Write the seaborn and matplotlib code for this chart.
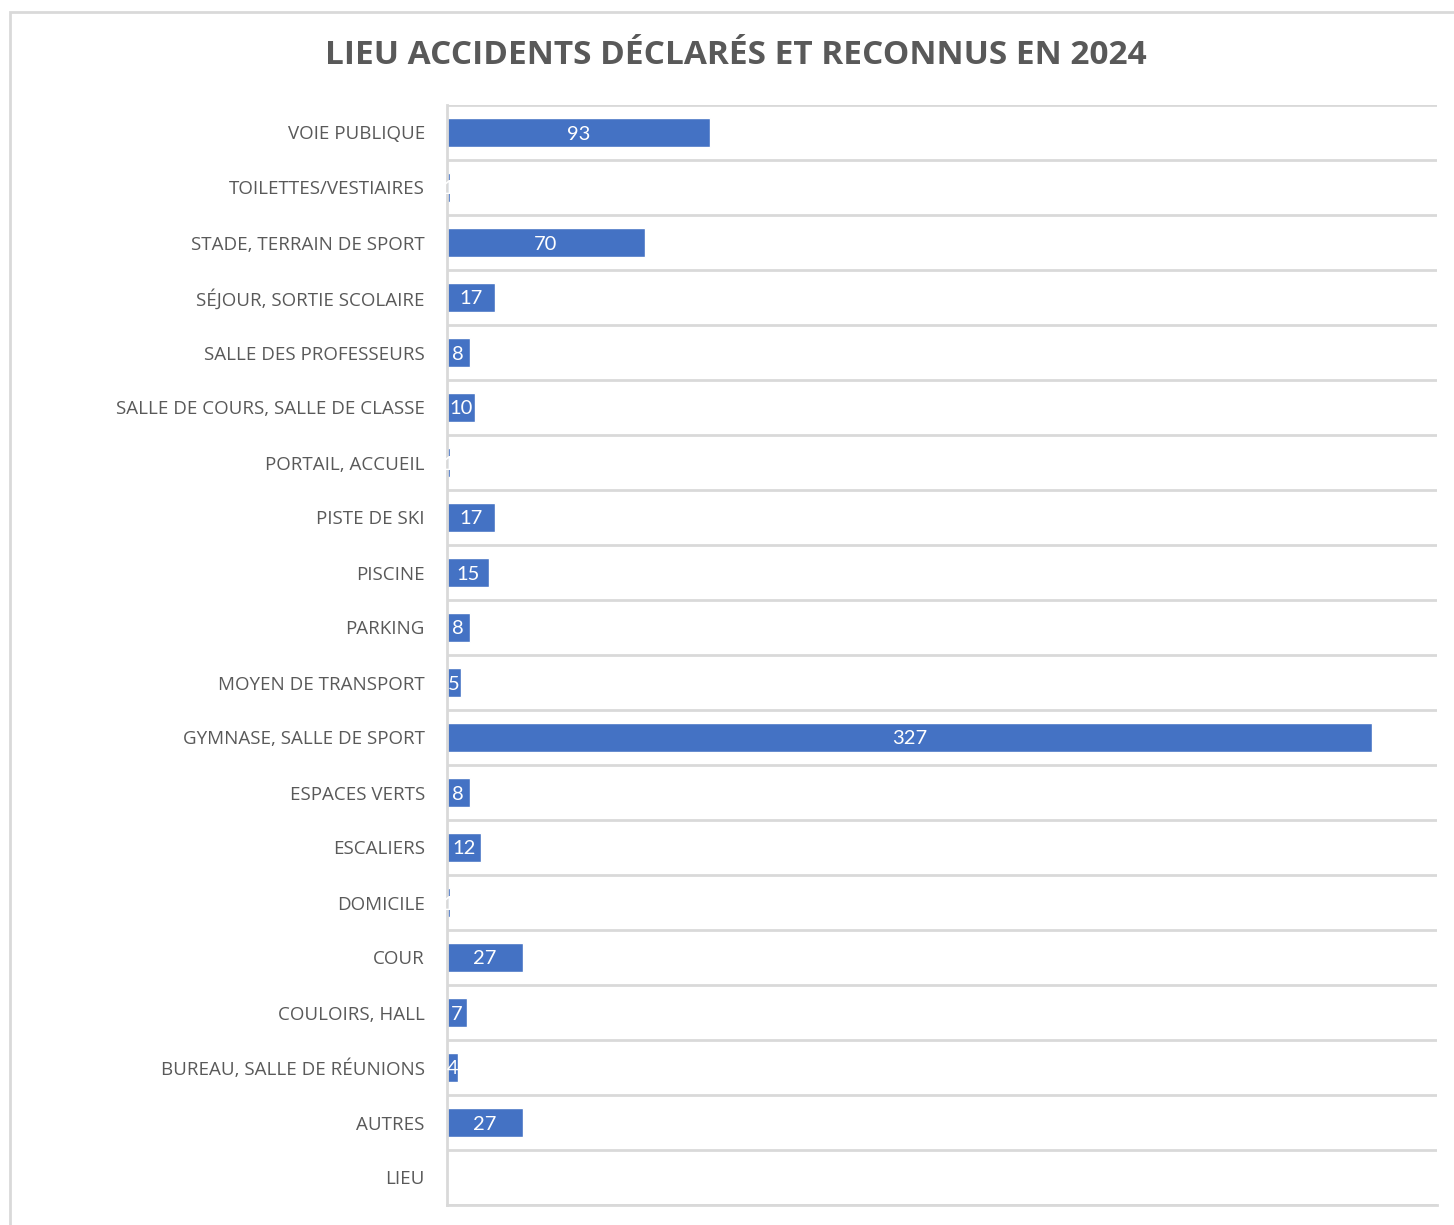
import numpy as np
import pandas as pd
import matplotlib
matplotlib.use("Agg")
import matplotlib.pyplot as plt
import seaborn as sns
from matplotlib.patches import Rectangle

# données du graphique (haut -> bas)
lieux = [
    "VOIE PUBLIQUE", "TOILETTES/VESTIAIRES", "STADE, TERRAIN DE SPORT",
    "SÉJOUR, SORTIE SCOLAIRE", "SALLE DES PROFESSEURS",
    "SALLE DE COURS, SALLE DE CLASSE", "PORTAIL, ACCUEIL", "PISTE DE SKI",
    "PISCINE", "PARKING", "MOYEN DE TRANSPORT", "GYMNASE, SALLE DE SPORT",
    "ESPACES VERTS", "ESCALIERS", "DOMICILE", "COUR", "COULOIRS, HALL",
    "BUREAU, SALLE DE RÉUNIONS", "AUTRES", "LIEU",
]
accidents = [93, 1, 70, 17, 8, 10, 1, 17, 15, 8, 5, 327, 8, 12, 1, 27, 7, 4, 27, np.nan]

df = pd.DataFrame({"Lieu": lieux, "Accidents": accidents})

sns.set_theme(style="white")
plt.rcParams['font.family'] = ['Open Sans', 'DejaVu Sans']

gris = "#595959"
ligne = "#d9d9d9"
bleu = "#4472C4"

fig = plt.figure(figsize=(14.54, 12.25), dpi=100)
ax = fig.add_axes([447 / 1454, 1 - 1205 / 1225, 990 / 1454, 1100 / 1225])

sns.barplot(data=df, x="Accidents", y="Lieu", order=lieux, color=bleu,
            width=0.545, saturation=1, ax=ax, errorbar=None)

# étiquettes de valeurs au centre des barres
for p in ax.containers[0]:
    w = p.get_width()
    if np.isnan(w):
        continue
    ax.text(w / 2, p.get_y() + p.get_height() / 2, f"{int(w)}",
            ha="center", va="center_baseline", color="white", fontsize=14.5,
            family=["Lato", "DejaVu Sans"])

ax.set_xlim(0, 350)
ax.set_ylim(len(lieux) - 0.5, -0.5)
ax.set_xlabel("")
ax.set_ylabel("")
ax.set_xticks([])
ax.set_yticks(range(len(lieux)))
ax.set_yticklabels(lieux, fontsize=13.5, color=gris)
ax.set_yticks(np.arange(-0.5, len(lieux), 1), minor=True)
ax.tick_params(axis="y", which="both", length=0, pad=16)
ax.grid(True, which="minor", axis="y", color=ligne, linewidth=2)
ax.set_axisbelow(True)

for s in ["top", "right"]:
    ax.spines[s].set_visible(False)
for s in ["left", "bottom"]:
    ax.spines[s].set_color(ligne)
    ax.spines[s].set_linewidth(2)

fig.text(736 / 1454, 1 - 55 / 1225, "LIEU ACCIDENTS DÉCLARÉS ET RECONNUS EN 2024",
         ha="center", va="center", fontsize=24, fontweight="bold", color=gris)

# cadre du graphique
fig.patches.append(Rectangle((10 / 1454, -0.1), 1.2, 1 - 12 / 1225 + 0.1,
                             transform=fig.transFigure, fill=False,
                             edgecolor=ligne, linewidth=2))

fig.savefig("out.png", dpi=100, facecolor="white")
